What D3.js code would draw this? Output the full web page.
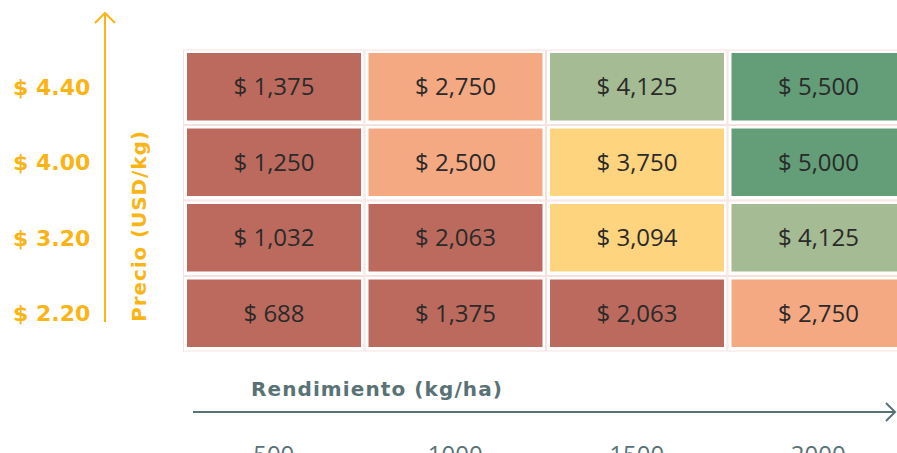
<!DOCTYPE html>
<html>
<head>
<meta charset="utf-8">
<script src="https://cdn.jsdelivr.net/npm/d3@7"></script>
<style>
  body { margin: 0; background: #fff; }
  svg { display: block; }
</style>
</head>
<body>
<div id="container"></div>
<script>
// categories
const yields = [500, 1000, 1500, 2000];
const prices = ["$ 4.40", "$ 4.00", "$ 3.20", "$ 2.20"];

// income per cell, one row per price (top to bottom)
const row440 = [1375, 2750, 4125, 5500];
const row400 = [1250, 2500, 3750, 5000];
const row320 = [1032, 2063, 3094, 4125];
const row220 = [688, 1375, 2063, 2750];

// colour class per cell (0 = low ... 4 = high)
const cls440 = [0, 1, 3, 4];
const cls400 = [0, 1, 2, 4];
const cls320 = [0, 0, 2, 3];
const cls220 = [0, 0, 0, 1];

const palette = ["#BC6A5E", "#F4A983", "#FFD47E", "#A5BB93", "#639E78"];

const rows = [row440, row400, row320, row220];
const classes = [cls440, cls400, cls320, cls220];

const cells = [];
prices.forEach((p, i) => {
  yields.forEach((y, j) => {
    cells.push({ price: p, yld: y, value: rows[i][j], cls: classes[i][j] });
  });
});

const width = 897, height = 453;
const gold = "#FBB416", slate = "#587276";
const font = "'Open Sans', sans-serif";
const boldFont = "'DejaVu Sans', sans-serif";

const svg = d3.select("#container")
  .append("svg")
  .attr("width", width)
  .attr("height", height)
  .style("font-family", font);

const x = d3.scaleBand().domain(yields).range([183, 909]);
const y = d3.scaleBand().domain(prices).range([49.5, 351.5]);

const fmt = d3.format(",");

// faint slot outlines
svg.append("g").selectAll("rect")
  .data(cells)
  .enter()
  .append("rect")
  .attr("x", d => x(d.yld) + 0.5)
  .attr("y", d => y(d.price) + 0.5)
  .attr("width", x.bandwidth() - 1)
  .attr("height", y.bandwidth() - 1)
  .attr("fill", "#fff")
  .attr("stroke", "#f5e2df")
  .attr("stroke-width", 1);

// coloured cells
svg.append("g").selectAll("rect")
  .data(cells)
  .enter()
  .append("rect")
  .attr("x", d => x(d.yld) + 4)
  .attr("y", d => y(d.price) + 3.5)
  .attr("width", x.bandwidth() - 7.5)
  .attr("height", y.bandwidth() - 8)
  .attr("fill", d => palette[d.cls]);

svg.append("g").selectAll("text")
  .data(cells)
  .enter()
  .append("text")
  .attr("x", d => x(d.yld) + 4 + (x.bandwidth() - 7.5) / 2)
  .attr("y", d => y(d.price) + 3.5 + (y.bandwidth() - 8) / 2)
  .attr("dy", "0.36em")
  .attr("text-anchor", "middle")
  .style("font-size", "24px")
  .attr("fill", "#2a2a2a")
  .text(d => "$ " + fmt(d.value));

// y axis: arrow + labels
svg.append("line")
  .attr("x1", 105).attr("x2", 105)
  .attr("y1", 322).attr("y2", 13)
  .attr("stroke", gold).attr("stroke-width", 2);
svg.append("path")
  .attr("d", "M95,23 L105,13 L115,23")
  .attr("fill", "none")
  .attr("stroke", gold).attr("stroke-width", 2);

svg.append("g").selectAll("text")
  .data(prices)
  .enter()
  .append("text")
  .attr("x", 13)
  .attr("y", d => y(d) + 3.5 + (y.bandwidth() - 8) / 2)
  .attr("dy", "0.36em")
  .style("font-family", boldFont)
  .style("font-size", "22px")
  .style("font-weight", 700)
  .attr("fill", gold)
  .text(d => d);

svg.append("text")
  .attr("transform", "translate(146,226) rotate(-90)")
  .attr("text-anchor", "middle")
  .style("font-family", boldFont)
  .style("font-size", "20px")
  .style("font-weight", 700)
  .style("letter-spacing", "0.9px")
  .attr("fill", gold)
  .text("Precio (USD/kg)");

// x axis: title, arrow, ticks
svg.append("text")
  .attr("x", 377)
  .attr("y", 396)
  .attr("text-anchor", "middle")
  .style("font-family", boldFont)
  .style("font-size", "20px")
  .style("font-weight", 700)
  .style("letter-spacing", "1.1px")
  .attr("fill", slate)
  .text("Rendimiento (kg/ha)");

svg.append("line")
  .attr("x1", 193).attr("x2", 895)
  .attr("y1", 412).attr("y2", 412)
  .attr("stroke", slate).attr("stroke-width", 2);
svg.append("path")
  .attr("d", "M886,403 L895,412 L886,421")
  .attr("fill", "none")
  .attr("stroke", slate).attr("stroke-width", 2);

const xAxis = svg.append("g")
  .attr("transform", "translate(0,440)")
  .call(d3.axisBottom(x).tickSize(0).tickPadding(0));
xAxis.select(".domain").remove();
xAxis.selectAll("text")
  .attr("y", 0)
  .attr("dy", "0.95em")
  .style("font-family", font)
  .style("font-size", "24px")
  .attr("fill", slate);
</script>
</body>
</html>
